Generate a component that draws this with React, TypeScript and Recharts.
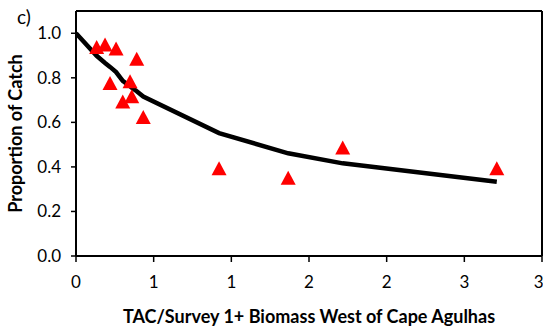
import React from "react";
import {
  ComposedChart,
  Scatter,
  XAxis,
  YAxis,
  ZAxis,
  ReferenceLine,
} from "recharts";

const obsX = [0.133, 0.187, 0.258, 0.391, 0.219, 0.348, 0.301, 0.359, 0.433, 0.921, 1.366, 1.717, 2.709];
const obsY = [0.938, 0.95, 0.932, 0.886, 0.777, 0.785, 0.694, 0.717, 0.624, 0.394, 0.351, 0.487, 0.394];

const fitX = [0, 0.133, 0.187, 0.219, 0.258, 0.301, 0.348, 0.359, 0.391, 0.433, 0.921, 1.366, 1.717, 2.709];
const fitY = [1.0, 0.899, 0.867, 0.849, 0.826, 0.786, 0.762, 0.756, 0.74, 0.716, 0.552, 0.461, 0.416, 0.333];

const xTicks = [0, 0.5, 1, 1.5, 2, 2.5, 3];
const yTicks = [0, 0.2, 0.4, 0.6, 0.8, 1.0];

const observed = obsX.map((x, i) => ({ x, y: obsY[i] }));
const fitted = fitX.map((x, i) => ({ x, y: fitY[i] }));

const FONT = "Lato, 'Open Sans', sans-serif";

const Tri = (props: any) => {
  const { cx, cy } = props;
  if (cx == null || cy == null) return null;
  const pts = `${cx},${cy - 7} ${cx - 7.5},${cy + 7} ${cx + 7.5},${cy + 7}`;
  return <polygon points={pts} fill="#FF0000" stroke="none" />;
};

const NoDot = () => null;

export default function App() {
  return (
    <div style={{ position: "absolute", left: 0, top: 0, width: 543, height: 326, background: "#fff", overflow: "hidden" }}>
      <div
        style={{
          position: "absolute",
          left: 17,
          top: 6,
          fontFamily: FONT,
          fontSize: 19,
          lineHeight: "22px",
          color: "#000",
        }}
      >
        c)
      </div>
      <ComposedChart
        width={543}
        height={326}
        margin={{ top: 11, right: 1, bottom: 0, left: 0 }}
      >
        <XAxis
          type="number"
          dataKey="x"
          domain={[0, 3]}
          ticks={xTicks}
          allowDataOverflow
          tickFormatter={(v: number) => String(Math.round(v))}
          axisLine={{ stroke: "#000", strokeWidth: 2 }}
          tickLine={{ stroke: "#000", strokeWidth: 1.5 }}
          tickSize={6}
          tickMargin={14}
          height={70}
          tick={{ fill: "#000", fontSize: 17, fontFamily: FONT }}
          label={{
            value: "TAC/Survey 1+ Biomass  West of Cape Agulhas",
            position: "insideBottom",
            offset: 3,
            style: { fill: "#000", fontSize: 18, fontWeight: 700, fontFamily: FONT, whiteSpace: "pre" },
          }}
        />
        <YAxis
          type="number"
          dataKey="y"
          domain={[0, 1.1]}
          ticks={yTicks}
          allowDataOverflow
          tickFormatter={(v: number) => v.toFixed(1)}
          axisLine={{ stroke: "#000", strokeWidth: 2 }}
          tickLine={{ stroke: "#000", strokeWidth: 1.5 }}
          tickSize={5}
          tickMargin={10}
          width={76}
          tick={{ fill: "#000", fontSize: 17, fontFamily: FONT }}
          label={{
            value: "Proportion of Catch",
            angle: -90,
            position: "insideLeft",
            offset: 16,
            style: { fill: "#000", fontSize: 18, fontWeight: 700, fontFamily: FONT, textAnchor: "middle" },
          }}
        />
        <ZAxis range={[90, 90]} />
        <ReferenceLine y={1.1} stroke="#000" strokeWidth={2} ifOverflow="extendDomain" />
        <ReferenceLine x={3} stroke="#000" strokeWidth={2} ifOverflow="extendDomain" />
        <Scatter
          data={fitted}
          line={{ stroke: "#000", strokeWidth: 4.5 }}
          shape={NoDot}
          isAnimationActive={false}
        />
        <Scatter data={observed} shape={Tri} isAnimationActive={false} />
      </ComposedChart>
    </div>
  );
}
